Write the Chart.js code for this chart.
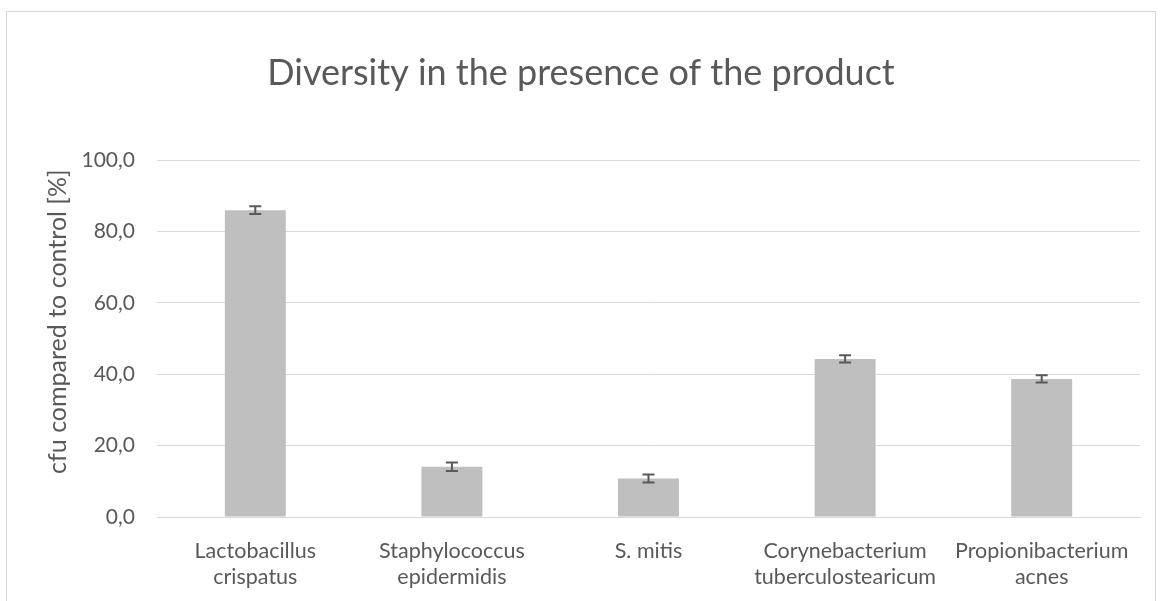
<!DOCTYPE html>
<html>
<head>
<meta charset="utf-8">
<script src="https://cdn.jsdelivr.net/npm/chart.js@4"></script>
<style>
  html, body { margin: 0; padding: 0; background: #fff; }
  #wrap { position: relative; width: 1162px; height: 601px; overflow: hidden; }
  #frame { position: absolute; left: 6px; top: 11px; width: 1150px; height: 620px; border: 1px solid #d9d9d9; box-sizing: border-box; }
  canvas { position: absolute; left: 0; top: 0; }
</style>
</head>
<body>
<div id="wrap">
  <div id="frame"></div>
  <canvas id="c" width="1162" height="601"></canvas>
</div>
<script>
const categories = [
  ['Lactobacillus', 'crispatus'],
  ['Staphylococcus', 'epidermidis'],
  ['S. mitis'],
  ['Corynebacterium', 'tuberculostearicum'],
  ['Propionibacterium', 'acnes']
];
const values = [86.0, 14.1, 10.8, 44.3, 38.7];
const errors = [1.1, 1.2, 1.1, 1.0, 1.0];
const yTickLabels = ['0,0', '20,0', '40,0', '60,0', '80,0', '100,0'];
const chartTitle = 'Diversity in the presence of the product';
const yAxisTitle = 'cfu compared to control [%]';

const textColor = '#595959';
const gridColor = '#d9d9d9';

const errorBarPlugin = {
  id: 'errorBars',
  afterDatasetsDraw(chart) {
    const ctx = chart.ctx;
    const yScale = chart.scales.y;
    const meta = chart.getDatasetMeta(0);
    ctx.save();
    ctx.strokeStyle = textColor;
    ctx.lineWidth = 2;
    meta.data.forEach((bar, i) => {
      const x = bar.x;
      const yTop = yScale.getPixelForValue(values[i] + errors[i]);
      const yBot = yScale.getPixelForValue(values[i] - errors[i]);
      const cap = 6;
      ctx.beginPath();
      ctx.moveTo(x, yTop); ctx.lineTo(x, yBot);
      ctx.moveTo(x - cap, yTop); ctx.lineTo(x + cap, yTop);
      ctx.moveTo(x - cap, yBot); ctx.lineTo(x + cap, yBot);
      ctx.stroke();
    });
    ctx.restore();
  }
};

const yTitlePlugin = {
  id: 'yTitle',
  afterDraw(chart) {
    const ctx = chart.ctx;
    const area = chart.chartArea;
    ctx.save();
    ctx.translate(58, (area.top + area.bottom) / 2 - 17);
    ctx.rotate(-Math.PI / 2);
    ctx.fillStyle = textColor;
    ctx.font = '25px Lato';
    ctx.textAlign = 'center';
    ctx.textBaseline = 'middle';
    ctx.fillText(yAxisTitle, 0, 0);
    ctx.restore();
  }
};

new Chart(document.getElementById('c'), {
  type: 'bar',
  data: {
    labels: categories,
    datasets: [{
      data: values,
      backgroundColor: '#bfbfbf',
      borderWidth: 0,
      categoryPercentage: 1.0,
      barPercentage: 0.31
    }]
  },
  options: {
    responsive: false,
    animation: false,
    devicePixelRatio: 1,
    layout: { padding: { left: 22, right: 22, top: 0, bottom: 0 } },
    plugins: {
      legend: { display: false },
      tooltip: { enabled: false },
      title: {
        display: true,
        text: chartTitle,
        color: textColor,
        font: { family: 'Lato', size: 36, weight: 400, lineHeight: 1.2 },
        padding: { top: 52, bottom: 65 }
      }
    },
    scales: {
      x: {
        grid: { display: false, drawTicks: false },
        border: { display: true, color: gridColor, width: 1 },
        ticks: {
          color: textColor,
          font: { family: 'Lato', size: 21.5, lineHeight: 1.2 },
          padding: 21,
          maxRotation: 0,
          autoSkip: false
        },
        afterFit(s) { s.height = 84; }
      },
      y: {
        min: 0,
        max: 100,
        ticks: {
          stepSize: 20,
          color: textColor,
          font: { family: 'Lato', size: 21 },
          padding: 22,
          callback: (v) => yTickLabels[Math.round(v / 20)]
        },
        grid: { color: gridColor, lineWidth: 1, drawTicks: false },
        border: { display: false },
        title: { display: false },
        afterFit(s) { s.width = 135; }
      }
    }
  },
  plugins: [errorBarPlugin, yTitlePlugin]
});
</script>
</body>
</html>
